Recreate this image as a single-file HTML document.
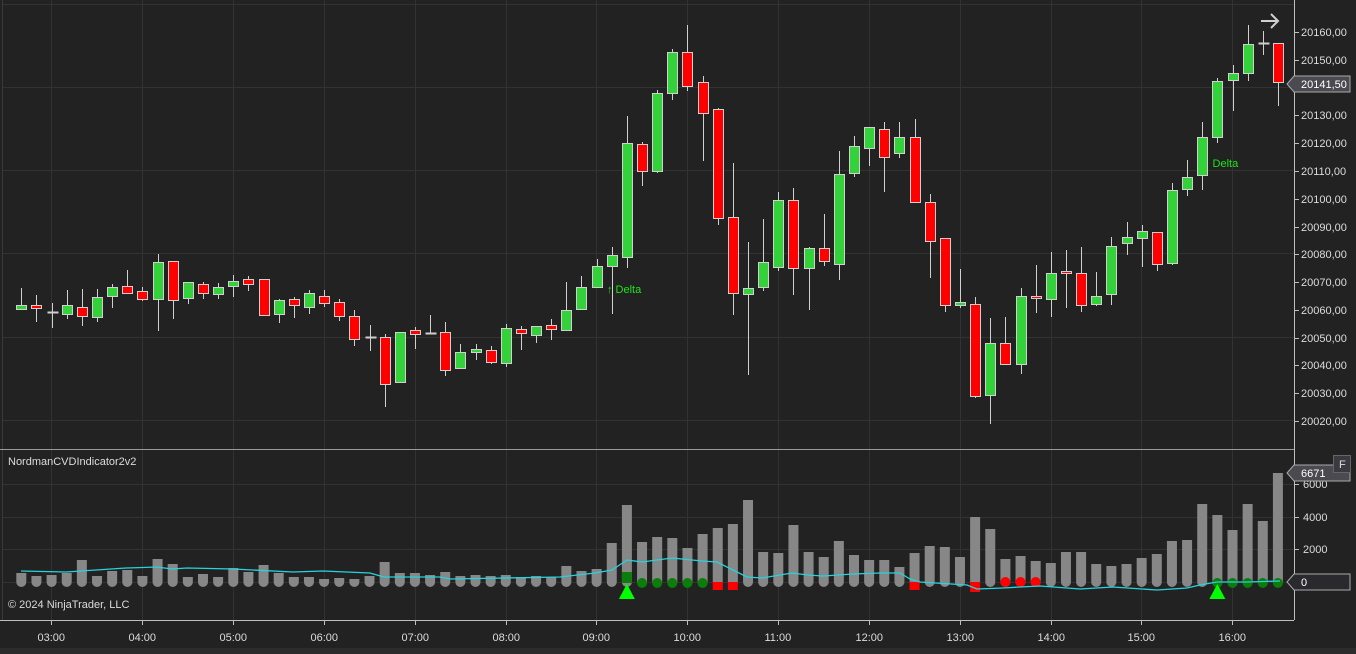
<!DOCTYPE html>
<html><head><meta charset="utf-8"><style>
html,body{margin:0;padding:0;background:#222;}
svg{display:block;font-family:"Liberation Sans",sans-serif;}
</style></head><body>
<svg id="s" width="1356" height="654" viewBox="0 0 1356 654" xmlns="http://www.w3.org/2000/svg">
<rect width="1356" height="654" fill="#222222"/>
<g id="grid" stroke="#323232" stroke-width="1"></g>
<line x1="2.5" y1="0" x2="2.5" y2="620" stroke="#3a3a3a"/>
<line x1="0" y1="449.5" x2="1294" y2="449.5" stroke="#9a9a9a"/>
<line x1="1294.5" y1="0" x2="1294.5" y2="620" stroke="#bfbfbf"/>
<line x1="0" y1="620.5" x2="1294" y2="620.5" stroke="#bfbfbf"/>
<g fill="#19e619" font-size="11"><text x="607" y="293">↑ Delta</text><text x="1204" y="167">↑ Delta</text></g>
<g id="c"></g>
<g id="low"></g>
<g fill="#dcdcdc" font-size="11">
<text x="1301" y="36">20160,00</text><text x="1301" y="64">20150,00</text>
<text x="1301" y="119">20130,00</text><text x="1301" y="147">20120,00</text>
<text x="1301" y="175">20110,00</text><text x="1301" y="203">20100,00</text><text x="1301" y="231">20090,00</text>
<text x="1301" y="258">20080,00</text><text x="1301" y="286">20070,00</text><text x="1301" y="314">20060,00</text>
<text x="1301" y="342">20050,00</text><text x="1301" y="369">20040,00</text><text x="1301" y="397">20030,00</text>
<text x="1301" y="425">20020,00</text>
<text x="1303" y="488">6000</text><text x="1303" y="521">4000</text><text x="1303" y="553">2000</text>
<text x="8" y="465">NordmanCVDIndicator2v2</text>
<text x="8" y="608">© 2024 NinjaTrader, LLC</text>
</g>
<g id="tk" stroke="#bfbfbf"></g>
<path d="M1287 84 L1294 76 L1350 76 L1350 92 L1294 92 Z" fill="#4a4a50" stroke="#aaa"/>
<text x="1301" y="88" fill="#fff" font-size="11">20141,50</text>
<path d="M1287 473 L1294 465 L1350 465 L1350 481 L1294 481 Z" fill="#4a4a50" stroke="#aaa"/>
<text x="1301" y="477" fill="#fff" font-size="11">6671</text>
<path d="M1287 582 L1294 574 L1350 574 L1350 590 L1294 590 Z" fill="#2a2a2e" stroke="#aaa"/>
<text x="1301" y="586" fill="#fff" font-size="11">0</text>
<rect x="1333.5" y="455.5" width="17" height="17" fill="#3a3a40" stroke="#666"/>
<text x="1339" y="468" fill="#ddd" font-size="11">F</text>
<path d="M1261 21 L1278 21 M1271 14 L1278 21 L1271 28" stroke="#d0d0d0" stroke-width="2" fill="none"/>
<g fill="#dcdcdc" font-size="11" id="tl"></g>
<rect x="0" y="648" width="1356" height="6" fill="#2c2c2c"/>
</svg>
<script>
const NS="http://www.w3.org/2000/svg";
function el(p,t,a){const e=document.createElementNS(NS,t);for(const k in a)e.setAttribute(k,a[k]);p.appendChild(e);return e;}
const X=i=>21.3+15.14*i;
const g=document.getElementById('grid');
[4,87,170,253,337,420].forEach(y=>el(g,'line',{x1:3,x2:1294,y1:y+.5,y2:y+.5}));
[484,517,549,582].forEach(y=>el(g,'line',{x1:3,x2:1294,y1:y+.5,y2:y+.5}));
const tk=document.getElementById('tk'),tl=document.getElementById('tl');
const hrs=["03:00","04:00","05:00","06:00","07:00","08:00","09:00","10:00","11:00","12:00","13:00","14:00","15:00","16:00"];
hrs.forEach((h,k)=>{const x=Math.round(51.3+90.85*k)+.5;
 el(g,'line',{x1:x,x2:x,y1:0,y2:449});el(g,'line',{x1:x,x2:x,y1:450,y2:620});
 el(tk,'line',{x1:x,x2:x,y1:621,y2:625});
 const t=el(tl,'text',{x:x-14,y:641});t.textContent=h;});
[32,60,115,143,171,199,227,254,282,310,338,365,393,421,484,517,549].forEach(y=>el(tk,'line',{x1:1295,x2:1299,y1:y+.5,y2:y+.5}));
const C=[[305,309,288,309,'g'],[305,308,295,322,'r'],[312,313,303,328,'d'],[305,314,290,319,'g'],[307,316,289,326,'r'],[297,317,289,322,'g'],[287,296,284,308,'g'],[286,293,270,294,'r'],[291,299,287,301,'r'],[262,299,254,331,'g'],[261,300,261,319,'r'],[282,298,282,304,'g'],[284,293,282,299,'r'],[287,294,283,299,'g'],[281,286,275,297,'g'],[279,284,276,291,'r'],[279,315,279,315,'r'],[300,314,299,323,'g'],[299,305,297,318,'r'],[293,307,290,314,'g'],[296,303,290,307,'r'],
[302,316,299,321,'r'],[316,339,310,346,'r'],[337,337,325,351,'d'],[337,384,334,407,'r'],[332,382,332,382,'g'],[330,334,327,349,'r'],[333,333,315,333,'d'],[332,370,322,376,'r'],[352,368,344,368,'g'],[349,352,344,360,'g'],[350,362,346,364,'r'],[328,363,324,367,'g'],[329,333,326,350,'r'],[326,335,326,343,'g'],[325,329,319,340,'r'],[310,330,282,330,'g'],[287,309,276,310,'g'],[266,287,259,287,'g'],[255,266,247,314,'g'],[143,257,116,268,'g'],[144,171,142,186,'r'],[93,171,90,173,'g'],[52,93,49,100,'g'],[52,86,25,91,'r'],[82,113,76,161,'r'],[109,218,108,225,'r'],
[217,293,163,315,'r'],[288,294,242,375,'g'],[262,287,219,291,'g'],[200,267,192,271,'g'],[200,268,188,295,'r'],[248,268,247,310,'g'],[248,261,214,266,'r'],[174,264,151,280,'g'],[146,173,136,177,'g'],[127,148,127,166,'g'],[129,157,122,192,'r'],[137,153,122,158,'g'],[137,202,119,203,'r'],[202,241,194,278,'r'],[238,305,238,312,'r'],[302,305,269,308,'g'],[304,396,297,398,'r'],[343,395,318,424,'g'],
[343,364,317,365,'r'],[296,364,288,374,'g'],[296,298,265,313,'r'],[273,299,252,317,'g'],[271,273,250,308,'r'],[273,305,247,312,'r'],[296,304,272,306,'g'],[246,294,237,305,'g'],[237,243,222,255,'g'],[231,238,225,267,'g'],[232,264,232,271,'r'],[190,263,183,265,'g'],[177,189,160,196,'g'],[137,175,122,190,'g'],[81,137,78,143,'g'],[73,80,65,111,'g'],[44,73,25,81,'g'],[43,43,31,55,'d'],[43,82,43,106,'r']];
const cg=document.getElementById('c');
C.forEach((c,i)=>{const x=Math.round(X(i))+.5;
 el(cg,'line',{x1:x,x2:x,y1:c[2],y2:c[3],stroke:'#d0d0d0','stroke-width':1});
 if(c[4]=='d'){el(cg,'line',{x1:x-5,x2:x+6,y1:c[0]+.5,y2:c[0]+.5,stroke:'#d0d0d0','stroke-width':2});}
 else el(cg,'rect',{x:x-5,y:c[0]+.5,width:10,height:Math.max(c[1]-c[0],2),fill:c[4]=='g'?'#33d13a':'#ff0000',stroke:'#d0d0d0','stroke-width':1});
});
const V=[573,576,575,573,560,576,571,570,576,559,564,577,574,577,568,572,565,573,577,577,579,578,579,576,562,573,573,575,572,576,575,576,575,577,576,577,566,571,569,543,505,542,537,538,548,534,528,524,500,552,553,525,552,557,541,555,560,
560,567,553,546,547,557,517,529,559,556,561,563,552,552,564,566,564,558,554,541,540,504,515,530,504,521,473];
const lo=document.getElementById('low');
V.forEach((t,i)=>{const x=X(i);
 el(lo,'path',{d:`M${x-5} ${t} L${x+5} ${t} L${x+5} 582 A5 5 0 0 1 ${x-5} 582 Z`,fill:'#878787'});});
[[46,590],[47,590],[59,590],[63,592]].forEach(([i,b])=>el(lo,'rect',{x:X(i)-5,y:582,width:10,height:b-582,fill:'#ff0000'}));
el(lo,'rect',{x:X(40)-5,y:572,width:10,height:11,fill:'#0a7d0a'});
[41,42,43,44,45,79,80,81,82,83].forEach(i=>el(lo,'circle',{cx:X(i),cy:583,r:5,fill:'#0a7d0a'}));
[65,66,67].forEach(i=>el(lo,'circle',{cx:X(i),cy:582,r:5,fill:'#ff0000'}));
[40,79].forEach(i=>{const x=X(i);el(lo,'path',{d:`M${x} 584 L${x+8} 599 L${x-8} 599 Z`,fill:'#00ff00'});});
const L=[[21,571],[66,572],[126,568],[157,567],[172,569],[187,568],[233,569],[293,572],[323,571],[370,573],[384,577],[414,577],[440,577],[450,579],[560,577],[595,573],[612,570],[627,560],[642,562],[672,558],[702,561],[717,562],[747,577],[762,578],[792,573],[808,575],[823,576],[853,574],[880,573],[900,573],[910,579],[920,582],[967,585],[977,589],[1003,588],[1020,587],[1040,586],[1080,589],[1113,587],[1157,590],[1187,588],[1200,585],[1217,582],[1247,582],[1280,581]];
el(lo,'polyline',{points:L.map(p=>p.join(',')).join(' '),fill:'none',stroke:'#27d3dc','stroke-width':1.3});
</script>
</body></html>
